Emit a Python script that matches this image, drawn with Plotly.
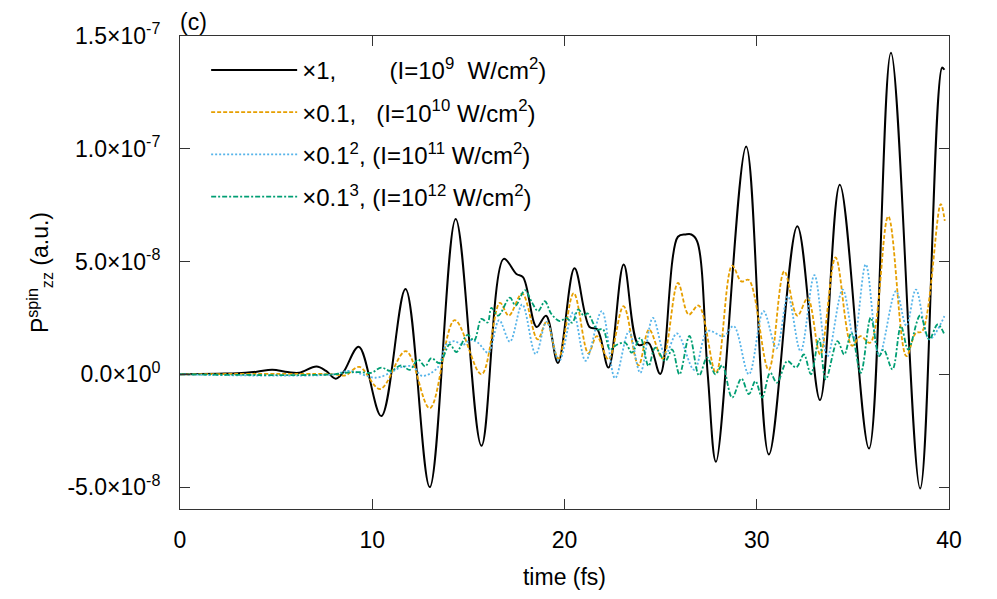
import plotly.graph_objects as go

# time (fs) / P_zz^spin in units of 1e-8 a.u. (already scaled)
t_black = [0, 2, 3, 4, 4.8, 5.6, 6.2, 7.1, 7.6, 8.1, 8.5, 9.3, 10.47, 11.73, 12.99, 14.34,
           15.68, 16.84, 17.5, 17.85, 18.55, 19.04, 19.66, 20.52, 21.3, 21.7, 22.29, 23.08,
           23.85, 24.37, 24.98, 25.9, 26.3, 26.6, 26.9, 27.45, 27.88, 29.45, 30.63, 32.11,
           33.29, 34.32, 35.84, 36.98, 38.5, 39.64, 39.76]
v_black = [0, 0.03, 0.05, 0.12, 0.2, 0.1, 0.07, 0.35, 0.15, -0.19, 0.1, 1.22, -1.85, 3.78,
           -5.0, 6.89, -3.17, 5.12, 4.45, 4.3, 2.1, 2.6, 0.5, 4.7, 2.1, 2.0, 0.3, 4.87,
           1.3, 1.4, 0.02, 6.1, 6.2, 6.2, 5.9, 0.0, -3.88, 10.1, -3.55, 6.56,
           -1.14, 8.41, -3.29, 14.26, -5.06, 13.6, 13.5]

t_orange = [0, 8.0, 8.6, 9.33, 10.41, 11.75, 12.99, 14.29, 15.68, 16.64, 17.1, 17.8, 18.6,
            19.07, 19.68, 20.48, 21.24, 21.68, 22.29, 23.07, 23.85, 24.4, 25.1, 25.9, 26.46,
            26.98, 27.88, 28.72, 29.2, 29.59, 30.62, 31.43, 32.11, 32.65, 33.3, 34.1, 34.95,
            35.4, 35.9, 36.84, 37.78, 38.28, 38.6, 39.57, 39.78]
v_orange = [0, 0, -0.05, 0.33, -0.65, 1.03, -1.5, 2.4, 0.0, 3.17, 2.6, 3.58, 1.55,
            2.33, 0.7, 3.6, 0.93, 1.69, 0.66, 3.02, 0.4, 1.99, 0.7, 4.05, 2.65,
            3.05, 0.07, 4.82, 4.12, 4.18, 0.2, 4.57, 2.6, 3.37, 0.88, 5.18, 1.27,
            1.69, 1.4, 7.0, 0.81, 1.84, 1.9, 7.55, 6.8]

t_blue = [0, 8.0, 8.8, 10.2, 11.0, 11.45, 12.1, 12.6, 13.4, 13.86, 14.29, 14.7, 15.1, 15.5,
          16.03, 16.6, 17.16, 17.8, 18.5, 19.07, 19.72, 20.45, 21.1, 21.94, 22.63, 23.35,
          23.94, 24.6, 25.24, 25.85, 26.75, 27.45, 28.28, 28.8, 29.59, 30.35, 31.03, 31.62,
          32.28, 33.0, 33.67, 34.47, 35.06, 35.67, 36.37, 37.24, 37.78, 38.28, 38.97, 39.76]
v_blue = [0, 0, 0.15, -0.15, 0.1, 0.3, 0.35, -0.07, 0.3, 1.33, 1.47, 1.3, 1.52, 1.4,
          0.96, 2.4, 1.45, 3.1, 0.9, 2.33, 0.59, 2.75, 0.6, 2.8, -0.17, 1.9,
          0.07, 2.5, 0.88, 1.81, 0.2, 1.92, 1.69, 2.14, 0.0, 2.8, 1.15, 3.46,
          1.03, 4.4, 0.8, 3.76, 1.6, 4.87, 0.85, 3.69, 2.15, 3.76, 1.55, 2.58]

t_green = [0, 8.0, 8.6, 9.3, 9.94, 10.47, 10.95, 11.51, 11.95, 12.38, 12.75, 13.07, 13.5,
           14.03, 14.38, 14.95, 15.3, 15.68, 16.0, 16.2, 16.55, 17.16, 17.45, 17.94, 18.3,
           18.63, 18.98, 19.3, 19.75, 20.1, 20.4, 20.72, 21.0, 21.2, 21.7, 22.0, 22.37,
           22.7, 23.16, 23.5, 23.94, 24.37, 24.72, 25.24, 25.6, 25.98, 26.5, 27.0, 27.42,
           27.85, 28.2, 28.72, 29.2, 29.59, 29.93, 30.28, 30.7, 31.05, 31.59, 32.05, 32.45,
           32.82, 33.24, 33.59, 34.2, 34.55, 34.92, 35.41, 35.93, 36.37, 36.6, 37.06, 37.5,
           37.88, 38.5, 38.97, 39.41, 39.78]
v_green = [0, 0, 0.07, 0.1, 0.07, 0.3, 0.15, 0.4, 0.2, 0.66, 0.35, 0.72, 0.5,
           1.33, 0.99, 1.75, 1.5, 2.46, 2.3, 2.95, 2.6, 3.4, 3.05, 3.73, 3.2,
           2.8, 3.24, 2.7, 2.36, 2.5, 2.29, 2.88, 2.6, 2.7, 1.99, 2.0, 1.1,
           1.3, 1.4, 0.96, 1.62, 0.37, 1.18, 0.59, 1.1, 0.0, 1.7, -0.05, 0.74,
           0.0, 0.4, -1.03, -0.19, -0.88, -0.3, -1.03, 0.07, -0.37, 0.59, 0.3, 0.88,
           0.0, 1.58, -0.22, 1.47, 0.88, 1.84, 0.07, 2.51, 0.81, 1.1, 0.22, 2.14,
           1.1, 2.61, 1.55, 2.21, 1.73]

y_ticks = [-5e-8, 0, 5e-8, 1e-7, 1.5e-7]
y_ticktext = ['-5.0×10<sup>-8</sup>', '0.0×10<sup>0</sup>', '5.0×10<sup>-8</sup>',
              '1.0×10<sup>-7</sup>', '1.5×10<sup>-7</sup>']

nb = '\u00a0'
series = [
    (t_black, v_black, '×1,' + nb * 8 + '(I=10<sup>9</sup>' + nb * 2 + 'W/cm<sup>2</sup>)',
     '#000000', 'solid', 2),
    (t_orange, v_orange, '×0.1,' + nb * 3 + '(I=10<sup>10</sup> W/cm<sup>2</sup>)',
     '#E69F00', '4px,2px', 1.8),
    (t_blue, v_blue, '×0.1<sup>2</sup>, (I=10<sup>11</sup> W/cm<sup>2</sup>)',
     '#56B4E9', '2px,2px', 1.8),
    (t_green, v_green, '×0.1<sup>3</sup>, (I=10<sup>12</sup> W/cm<sup>2</sup>)',
     '#009E73', '5px,2px,2px,2px', 1.8),
]

fig = go.Figure()
for i, (t, v, name, color, dash, w) in enumerate(series):
    fig.add_trace(go.Scatter(
        x=t, y=[val * 1e-8 for val in v], mode='lines', name=name,
        line=dict(color=color, dash=dash, width=w, shape='spline', smoothing=1.0),
        legendgroup=str(i)))

axis_common = dict(showgrid=False, zeroline=False, showline=True, linecolor='#333333',
                   linewidth=1, mirror='ticks', ticks='inside', ticklen=10,
                   tickcolor='#333333', tickfont=dict(size=23, color='#000000'),
                   automargin=False)

fig.update_xaxes(range=[0, 40], tickvals=[0, 10, 20, 30, 40],
                 title=dict(text='time (fs)', font=dict(size=23), standoff=17),
                 ticklabelstandoff=10, **axis_common)
fig.update_yaxes(range=[-5.97e-8, 1.5e-7], tickvals=y_ticks, ticktext=y_ticktext,
                 title=dict(text='P<sup>spin</sup><sub>zz</sub> (a.u.)', font=dict(size=23),
                            standoff=12),
                 ticklabelstandoff=14, **axis_common)

fig.add_annotation(text='(c)', xref='paper', yref='paper', x=-0.003, y=1.0, yshift=-1,
                   xanchor='left', yanchor='bottom', showarrow=False,
                   font=dict(size=23, color='#000000'))

# page body adds an 8px offset, so the figure is 8px smaller than the window
fig.update_layout(
    width=989, height=591,
    margin=dict(l=172, r=48, t=28, b=90),
    paper_bgcolor='white', plot_bgcolor='white',
    font=dict(family='Liberation Sans, Arial, sans-serif', color='#000000'),
    legend=dict(x=0.034, y=0.975, xanchor='left', yanchor='top', bgcolor='rgba(0,0,0,0)',
                font=dict(size=24), itemwidth=86, tracegroupgap=8),
    showlegend=True,
)

fig.write_html("out.html")
